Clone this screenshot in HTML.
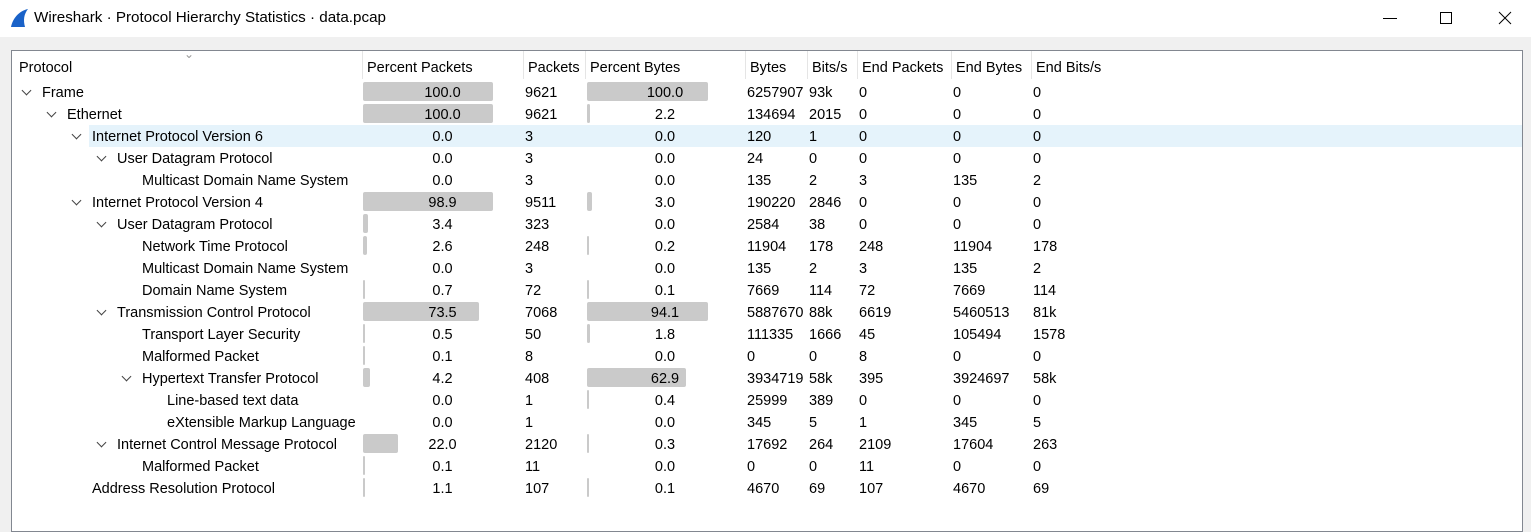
<!DOCTYPE html>
<html><head><meta charset="utf-8">
<style>
body{margin:0;width:1531px;height:526px;overflow:hidden;background:#f0f0f0;font-family:"Liberation Sans",sans-serif;position:relative}
#title{position:absolute;left:0;top:0;width:1531px;height:37px;background:#fff}
#title .t{position:absolute;left:34px;top:9px;font-size:15.2px;color:#000}
.ctl{position:absolute;top:0;height:37px}
#box{position:absolute;left:11px;top:50px;width:1510px;height:480px;background:#fff;border:1px solid #828790;overflow:hidden}
.h,.c{position:absolute;font-size:14.5px;color:#000;white-space:nowrap;line-height:22px}
.c{padding-top:1px}
.sep{position:absolute;top:2px;width:1px;height:28px;background:#e5e5e5}
.bar{position:absolute;height:19px;background:#cacaca;border-radius:2px}
.arrow{position:absolute;width:6px;height:6px;border-right:1.7px solid #444;border-bottom:1.7px solid #444;transform:rotate(45deg)}
</style></head><body>
<div id="title">
<svg style="position:absolute;left:9px;top:8px" width="20" height="20"><path d="M2 19 C4 10 10 3 19 1 C15 6 14 12 16 19 Z" fill="#1a62c8"/></svg>
<span class="t">Wireshark · Protocol Hierarchy Statistics · data.pcap</span>
<svg class="ctl" style="left:1380px" width="20" height="37"><line x1="3" y1="18.5" x2="17" y2="18.5" stroke="#000"/></svg>
<svg class="ctl" style="left:1436px" width="20" height="37"><rect x="4.5" y="12.5" width="11" height="11" fill="none" stroke="#000"/></svg>
<svg class="ctl" style="left:1495px" width="20" height="37"><path d="M4 12 L16 24 M16 12 L4 24" stroke="#000"/></svg>
</div>
<div id="box"></div>
<script>
const headers=["Protocol","Percent Packets","Packets","Percent Bytes","Bytes","Bits/s","End Packets","End Bytes","End Bits/s"];
const names=["Frame","Ethernet","Internet Protocol Version 6","User Datagram Protocol","Multicast Domain Name System","Internet Protocol Version 4","User Datagram Protocol","Network Time Protocol","Multicast Domain Name System","Domain Name System","Transmission Control Protocol","Transport Layer Security","Malformed Packet","Hypertext Transfer Protocol","Line-based text data","eXtensible Markup Language","Internet Control Message Protocol","Malformed Packet","Address Resolution Protocol"];
const levels=[0,1,2,3,4,2,3,4,4,4,3,4,4,4,5,5,3,4,2];
const expandable=[1,1,1,1,0,1,1,0,0,0,1,0,0,1,0,0,1,0,0];
const pctPackets=[100.0,100.0,0.0,0.0,0.0,98.9,3.4,2.6,0.0,0.7,73.5,0.5,0.1,4.2,0.0,0.0,22.0,0.1,1.1];
const packets=[9621,9621,3,3,3,9511,323,248,3,72,7068,50,8,408,1,1,2120,11,107];
const pctBytes=[100.0,2.2,0.0,0.0,0.0,3.0,0.0,0.2,0.0,0.1,94.1,1.8,0.0,62.9,0.4,0.0,0.3,0.0,0.1];
const bytes=[6257907,134694,120,24,135,190220,2584,11904,135,7669,5887670,111335,0,3934719,25999,345,17692,0,4670];
const bits=["93k","2015","1","0","2","2846","38","178","2","114","88k","1666","0","58k","389","5","264","0","69"];
const endPackets=[0,0,0,0,3,0,0,248,3,72,6619,45,8,395,0,1,2109,11,107];
const endBytes=[0,0,0,0,135,0,0,11904,135,7669,5460513,105494,0,3924697,0,345,17604,0,4670];
const endBits=["0","0","0","0","2","0","0","178","2","114","81k","1578","0","58k","0","5","263","0","69"];

const box=document.getElementById('box');
const colX=[0,350,511,573,733,795,845,939,1019];
const colW=[350,161,62,160,62,50,94,80,120];
function mk(cls,x,y,txt){const d=document.createElement('div');d.className=cls;d.style.left=x+'px';d.style.top=y+'px';if(txt!==undefined)d.textContent=txt;box.appendChild(d);return d;}
headers.forEach((h,i)=>{
  const e=mk('h',colX[i]+(i?5:7),6,h);
  
  
  if(i>0){const s=mk('sep',colX[i],0);}
});
const sa=mk('h',172,-8,'⌄');sa.style.fontSize='12px';sa.style.color='#999';


function barW(p,max){if(p<=0)return 0;return Math.max(2,Math.min(max,p*1.58));}
const rowH=22,top0=30;
names.forEach((n,r)=>{
  const y=top0+r*rowH;
  const tx=30+25*levels[r];
  if(r===2){const hl=mk('c',tx-3,y);hl.style.padding='0';hl.style.width=(1510-tx+3)+'px';hl.style.height='22px';hl.style.background='#e5f3fb';
    
    }
  if(expandable[r]){const a=mk('arrow',tx-19,y+6);}
  const t=mk('c',tx,y,n);
  
  
  const b1w=barW(pctPackets[r],130);
  if(b1w){const b=mk('bar',colX[1]+1,y+1);b.style.width=b1w+'px';}
  const b2w=barW(pctBytes[r],121);
  if(b2w){const b=mk('bar',colX[3]+2,y+1);b.style.width=b2w+'px';}
  const p1=mk('c',colX[1],y,pctPackets[r].toFixed(1));p1.style.width=colW[1]+'px';p1.style.textAlign='center';
  
  
  const p2=mk('c',colX[3],y,pctBytes[r].toFixed(1));p2.style.width=colW[3]+'px';p2.style.textAlign='center';
  
  
  const vals=[[2,packets[r]],[4,bytes[r]],[5,bits[r]],[6,endPackets[r]],[7,endBytes[r]],[8,endBits[r]]];
  vals.forEach(([c,v])=>{const e=mk('c',colX[c]+2,y,String(v));
    
    });
});
</script>
</body></html>
